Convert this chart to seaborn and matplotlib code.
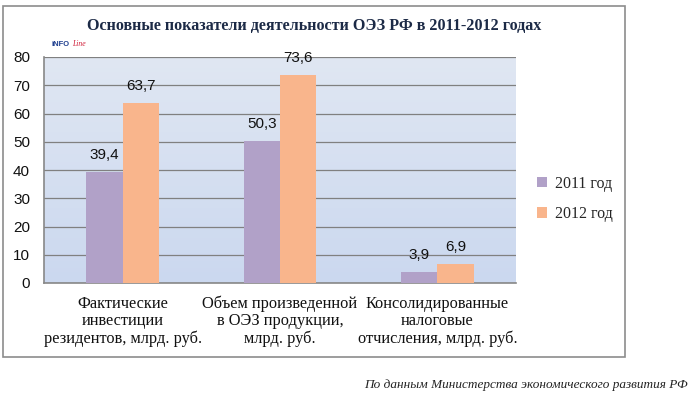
import numpy as np
import pandas as pd
import seaborn as sns
import matplotlib.pyplot as plt
from matplotlib.patches import Rectangle, Patch

categories = ['Фактические\nинвестиции\nрезидентов, млрд. руб.',
              'Объем произведенной\nв ОЭЗ продукции,\nмлрд. руб.',
              'Консолидированные\nналоговые\nотчисления, млрд. руб.']
years = ['2011 год', '2012 год']
values_2011 = [39.4, 50.3, 3.9]
values_2012 = [63.7, 73.6, 6.9]
colors = ['#b1a1c8', '#f9b58c']

df = pd.DataFrame({
    'cat': categories * 2,
    'year': [years[0]] * 3 + [years[1]] * 3,
    'val': values_2011 + values_2012,
})

sns.set_theme(style='white')
plt.rcParams['font.family'] = ['Liberation Sans', 'DejaVu Sans']

fig = plt.figure(figsize=(6.92, 3.98), dpi=100)
ax = fig.add_axes([44 / 692, 1 - 283 / 398, 472 / 692, 226 / 398])

# gradient background of plot area
grad = np.linspace(0, 1, 256).reshape(-1, 1)
top = np.array([0xe0, 0xe7, 0xf3]) / 255
bot = np.array([0xcb, 0xd8, 0xef]) / 255
img = top * (1 - grad[..., None]) + bot * grad[..., None]
ax.imshow(img, extent=[0, 1, 0, 1], transform=ax.transAxes, aspect='auto', zorder=0)

sns.barplot(data=df, x='cat', y='val', hue='year', palette=colors, width=0.46,
            saturation=1, linewidth=0, ax=ax, legend=False, zorder=3)
for cont in ax.containers:
    ax.bar_label(cont, labels=[f'{v:.1f}'.replace('.', ',') for v in cont.datavalues],
                 padding=7, fontsize=11, color='#111111', zorder=4)

ax.set_xlim(-0.5, 2.5)
ax.set_ylim(0, 80)
ax.set_yticks(range(0, 81, 10))
ax.yaxis.grid(True, color='#808080', linewidth=0.9, zorder=1)
ax.set_axisbelow(True)
for s in ['top', 'right']:
    ax.spines[s].set_visible(False)
for s in ['left', 'bottom']:
    ax.spines[s].set_color('#888888')
    ax.spines[s].set_linewidth(1.2)
ax.tick_params(axis='y', length=0, labelsize=11, pad=10, colors='#111111')
ax.tick_params(axis='x', length=0, pad=9)
ax.set_xticks(range(3))
ax.set_xticklabels(categories, family=['Liberation Serif'], fontsize=11.8,
                   color='#111111', linespacing=1.12)
ax.set_xlabel('')
ax.set_ylabel('')

# outer chart border
fig.patches.append(Rectangle((3 / 692, 1 - 357 / 398), 622 / 692, 351 / 398,
                             transform=fig.transFigure, fill=False,
                             edgecolor='#8c8c8c', linewidth=1.2))

fig.text(314 / 692, 1 - 26 / 398,
         'Основные показатели деятельности ОЭЗ РФ в 2011-2012 годах',
         ha='center', va='center', family=['Liberation Serif'],
         fontsize=11.6, fontweight='bold', color='#1c2a46')

# logo
fig.text(52 / 692, 1 - 44 / 398, 'iNFO', fontsize=5.5, fontweight='bold',
         color='#1f3f8f', ha='left', va='center')
fig.text(72 / 692, 1 - 44 / 398, 'Line', fontsize=5.5, style='italic',
         color='#d0203a', ha='left', va='center', family=['Liberation Serif'])

handles = [Patch(facecolor=c, edgecolor='none') for c in colors]
fig.legend(handles, years, loc='center left', bbox_to_anchor=(523 / 692, 1 - 199 / 398),
           frameon=False, prop={'family': 'Liberation Serif', 'size': 11.5},
           handlelength=0.6, handleheight=0.6, handletextpad=0.5, labelspacing=0.9)

fig.text(688 / 692, 1 - 385 / 398,
         'По данным Министерства экономического развития РФ',
         ha='right', va='center', family=['Liberation Serif'], style='italic',
         fontsize=9.5, color='#222222')

fig.savefig('out.png', dpi=100)
